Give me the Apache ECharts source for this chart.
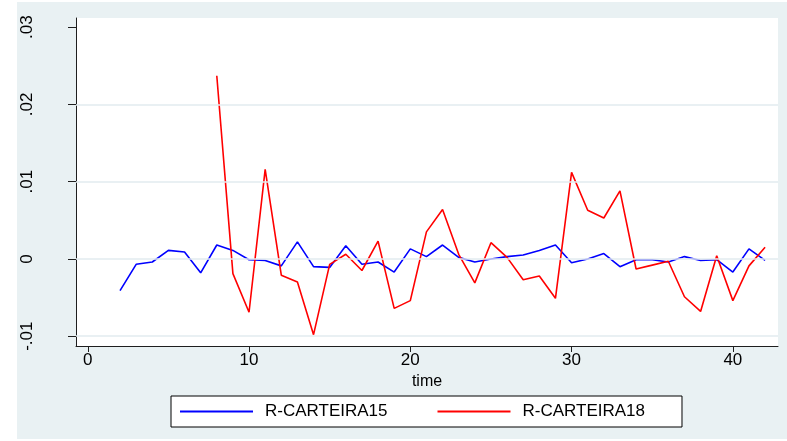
<!DOCTYPE html>
<html>
<head>
<meta charset="utf-8">
<script src="https://cdn.jsdelivr.net/npm/echarts@6/dist/echarts.min.js"></script>
<style>
  html, body { margin: 0; padding: 0; background: #ffffff; }
  .panel { position: absolute; left: 17px; top: 2px; width: 770px; height: 437px; background: #e9f1f3; }
  #chart { position: absolute; left: 0; top: 0; width: 787px; height: 441px; }
</style>
</head>
<body>
<div class="panel"></div>
<div id="chart"></div>
<script>
// Periods on the horizontal axis
const time = [2, 3, 4, 5, 6, 7, 8, 9, 10, 11, 12, 13, 14, 15, 16, 17, 18, 19, 20, 21,
              22, 23, 24, 25, 26, 27, 28, 29, 30, 31, 32, 33, 34, 35, 36, 37, 38, 39, 40, 41, 42];

// Portfolio returns, one value per period
const rCarteira15 = [-0.0041, -0.0007, -0.0004, 0.0011, 0.0009, -0.0018, 0.0018, 0.0011, -0.0001, -0.0002,
                     -0.0009, 0.0022, -0.0010, -0.0011, 0.0017, -0.0007, -0.0004, -0.0017, 0.0013, 0.0003,
                     0.0018, 0.0002, -0.0004, 0.0000, 0.0003, 0.0005, 0.0011, 0.0018, -0.0005, 0.0000,
                     0.0007, -0.0010, -0.0001, -0.0001, -0.0004, 0.0003, -0.0002, -0.0001, -0.0017, 0.0013,
                     -0.0002];

// Second portfolio starts at period 8
const rCarteira18 = [null, null, null, null, null, null, 0.0237, -0.0019, -0.0069, 0.0116,
                     -0.0021, -0.0030, -0.0098, -0.0007, 0.0006, -0.0015, 0.0023, -0.0064, -0.0054, 0.0035,
                     0.0064, 0.0006, -0.0031, 0.0021, 0.0002, -0.0027, -0.0022, -0.0051, 0.0112, 0.0063,
                     0.0053, 0.0088, -0.0013, -0.0008, -0.0003, -0.0049, -0.0068, 0.0004, -0.0054, -0.0009,
                     0.0015];

const seriesNames = ['R-CARTEIRA15', 'R-CARTEIRA18'];

// Axis ticks and their printed labels
const xTicks = [0, 10, 20, 30, 40];
const yTicks = [-0.01, 0, 0.01, 0.02, 0.03];
const yTickLabels = ['-.01', '0', '.01', '.02', '.03'];
const gridLevels = [-0.01, 0, 0.01, 0.02];

const toPairs = (vals) => time.map((t, i) => [t, vals[i]]).filter(p => p[1] !== null);

const font = '"Liberation Sans", Arial, sans-serif';
const axisColor = '#1e1e1e';

const chart = echarts.init(document.getElementById('chart'), null, { renderer: 'canvas' });

chart.setOption({
  animation: false,
  backgroundColor: 'transparent',
  grid: {
    left: 76, right: 9, top: 18, bottom: 95,
    show: true, backgroundColor: '#ffffff', borderWidth: 0
  },
  legend: {
    data: seriesNames.map(n => ({ name: n, icon: 'rect' })),
    left: 171, top: 396,
    orient: 'horizontal',
    itemWidth: 73, itemHeight: 2, itemGap: 50,
    padding: [7, 37, 7, 9],
    borderColor: '#000000', borderWidth: 1,
    backgroundColor: '#ffffff',
    selectedMode: false,
    textStyle: { fontSize: 17, fontFamily: font, color: '#000000', padding: [0, 0, 0, 7] }
  },
  xAxis: {
    type: 'value',
    min: -0.73, max: 42.8,
    name: 'time', nameLocation: 'middle', nameGap: 22,
    nameTextStyle: { color: '#000000', fontSize: 16, fontFamily: font },
    axisLine: { show: true, onZero: false, lineStyle: { color: axisColor, width: 1 } },
    axisTick: { show: true, customValues: xTicks, length: 6, lineStyle: { color: axisColor, width: 1 } },
    axisLabel: { customValues: xTicks, color: '#000000', fontSize: 17, fontFamily: font, margin: 6 },
    splitLine: { show: false }
  },
  yAxis: {
    type: 'value',
    min: -0.01127, max: 0.03118,
    axisLine: { show: true, onZero: false, lineStyle: { color: axisColor, width: 1 } },
    axisTick: { show: true, customValues: yTicks, length: 8, lineStyle: { color: axisColor, width: 1 } },
    axisLabel: {
      customValues: yTicks, rotate: 90, margin: 40,
      color: '#000000', fontSize: 17, fontFamily: font,
      formatter: (v) => yTickLabels[Math.round(v * 100) + 1]
    },
    splitLine: { show: false }
  },
  series: [
    {
      // horizontal reference lines behind the data
      type: 'line', name: 'gridlines', data: [], z: 1, silent: true,
      markLine: {
        silent: true, symbol: 'none', animation: false,
        label: { show: false },
        lineStyle: { color: '#e2ebef', width: 1.5, type: 'solid' },
        emphasis: { disabled: true },
        data: gridLevels.map(v => ({ yAxis: v }))
      }
    },
    {
      type: 'line', name: seriesNames[0], data: toPairs(rCarteira15),
      symbol: 'none', z: 3,
      lineStyle: { color: '#0000ff', width: 1.6 },
      itemStyle: { color: '#0000ff' }
    },
    {
      type: 'line', name: seriesNames[1], data: toPairs(rCarteira18),
      symbol: 'none', z: 4,
      lineStyle: { color: '#ff0000', width: 1.6 },
      itemStyle: { color: '#ff0000' }
    }
  ]
});
</script>
</body>
</html>
